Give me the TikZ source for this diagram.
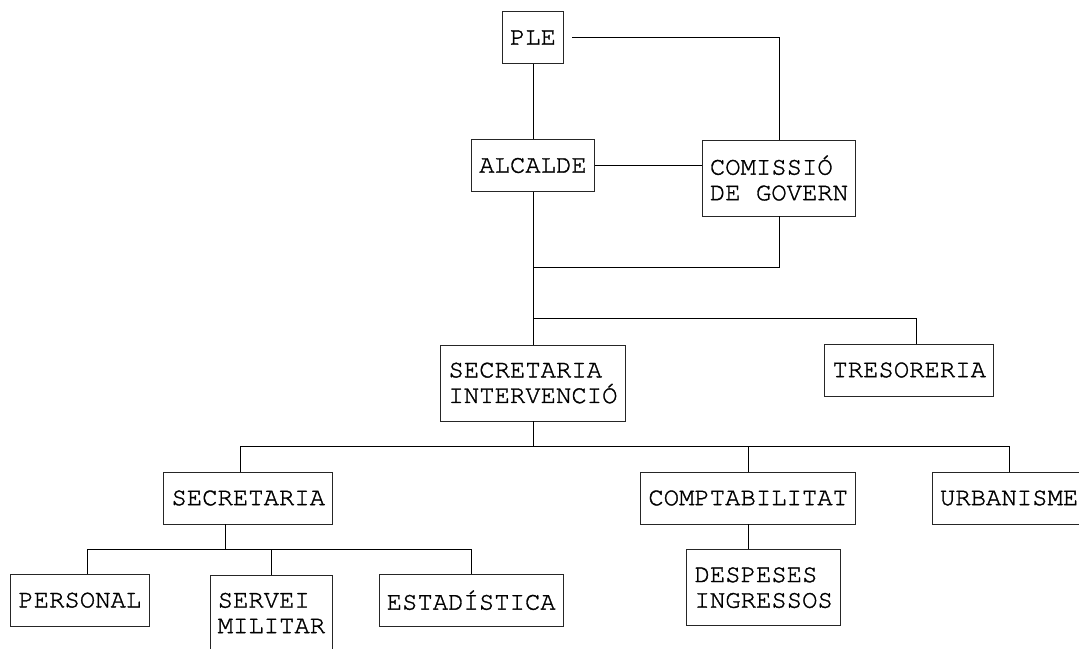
\documentclass[tikz,border=0pt]{standalone}
\usepackage{fontspec}
\setmainfont[FakeBold=1.3]{TeX Gyre Cursor}
\begin{document}
\begin{tikzpicture}[x=1pt,y=-1pt,
  box/.style={draw=black!85,line width=0.9pt,rectangle,inner xsep=7.7pt,inner ysep=0pt,
    font=\fontsize{25.6pt}{25.6pt}\selectfont,align=left},
  one/.style={box,minimum height=52pt},
  two/.style={box,minimum height=76pt},
  conn/.style={draw=black,line width=0.9pt}]
\useasboundingbox (0,0) rectangle (1079,648);
\clip (0,0) rectangle (1079,648);
\node[one] (PLE) at (533,37.5) {PLE};
\node[one] (ALC) at (533,165.5) {ALCALDE};
\node[two] (COM) at (779,178) {COMISSIÓ\\DE GOVERN};
\node[two] (SI) at (533,383) {SECRETARIA\\INTERVENCIÓ};
\node[one] (TRES) at (909.2,370) {TRESORERIA};
\node[one] (SEC) at (248.3,498) {SECRETARIA};
\node[one] (COMP) at (748.2,498) {COMPTABILITAT};
\node[one] (URB) at (1009.1,498) {URBANISME};
\node[one] (PERS) at (79.85,600.2) {PERSONAL};
\node[two] (SERV) at (271.45,613) {SERVEI\\MILITAR};
\node[one] (ESTA) at (471.2,600.2) {ESTADÍSTICA};
\node[two] (DESP) at (763.7,587.7) {DESPESES\\INGRESSOS};
\coordinate (j1) at (533,267.7);
\coordinate (j2) at (533,318.7);
\coordinate (b2) at (533,446.7);
\coordinate (b3) at (225.3,549.3);
\draw[conn] (PLE.south) -- (ALC.north);
\draw[conn] ([xshift=8pt]PLE.east) -| (COM.north);
\draw[conn] (ALC.east) -- (ALC.east -| COM.west);
\draw[conn] (ALC.south) -- (SI.north);
\draw[conn] (COM.south) |- (j1);
\draw[conn] (j2) -| ([xshift=7.5pt]TRES.north);
\draw[conn] (SI.south) -- (b2);
\draw[conn] ([xshift=-7.6pt]SEC.north) |- (URB.north |- b2) -- (URB.north);
\draw[conn] (COMP.north) -- (COMP.north |- b2);
\draw[conn] (COMP.south) -- (COMP.south |- DESP.north);
\draw[conn] ([xshift=-23pt]SEC.south) -- (b3);
\draw[conn] ([xshift=7.4pt]PERS.north) |- (ESTA.north |- b3) -- (ESTA.north);
\draw[conn] (SERV.north) -- (SERV.north |- b3);
\end{tikzpicture}
\end{document}
